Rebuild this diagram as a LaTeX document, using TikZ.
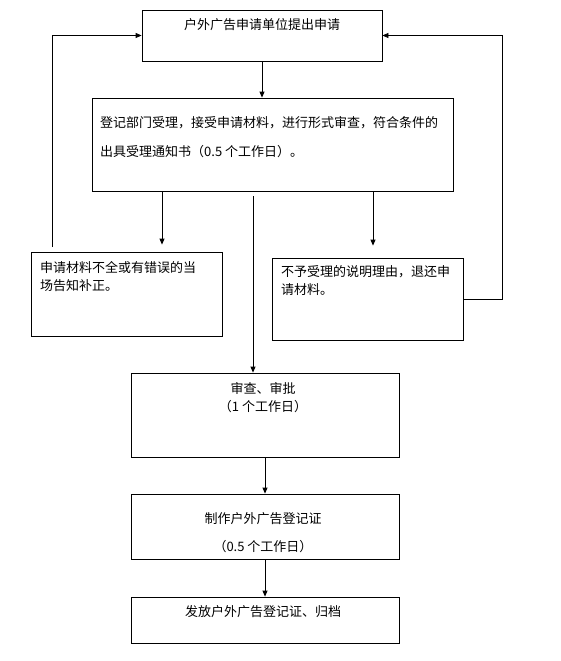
\documentclass[tikz,border=0pt]{standalone}
\usepackage{fontspec}
\setmainfont{Noto Sans CJK SC}
\usetikzlibrary{arrows.meta, positioning}
\tikzset{
  box/.style={draw, line width=0.8pt, inner sep=0pt},
  txt/.style={font=\fontsize{13}{18}\selectfont, inner sep=0pt},
  arr/.style={-{Triangle[length=6pt,width=5pt]}, line width=0.8pt}
}
\begin{document}
\begin{tikzpicture}[x=1pt,y=-1pt]
        \useasboundingbox (0,0) rectangle (560,661);
        \node[box, minimum width=240pt, minimum height=51pt] (apply) at (262,35.5) {};
        \node[box, minimum width=361pt, minimum height=93pt] (accept) at (272.5,144.5) {};
        \node[box, minimum width=191pt, minimum height=84pt] (fix) at (126.5,294) {};
        \node[box, minimum width=191pt, minimum height=82pt] (reject) at (367.5,299) {};
        \node[box, minimum width=268pt, minimum height=84pt] (review) at (265,415) {};
        \node[box, minimum width=268pt, minimum height=65pt] (make) at (265,526.5) {};
        \node[box, minimum width=268pt, minimum height=46pt] (issue) at (265,620) {};
        % texts
        \node[txt] at (262,25) {户外广告申请单位提出申请};
        \node[txt, anchor=west, align=left] at (100,137.5) {登记部门受理，接受申请材料，进行形式审查，符合条件的\\[11pt]出具受理通知书（0.5 个工作日）。};
        \node[txt, anchor=west, align=left] at (40,277) {申请材料不全或有错误的当\\场告知补正。};
        \node[txt, anchor=west, align=left] at (281,281) {不予受理的说明理由，退还申\\请材料。};
        \node[txt, align=center] at (263,398) {审查、审批\\（1 个工作日）};
        \node[txt, align=center] at (263,533) {制作户外广告登记证\\[10pt]（0.5 个工作日）};
        \node[txt] at (263,612) {发放户外广告登记证、归档};
        % arrows
        \coordinate (a1) at (162,191);
        \coordinate (a2) at (253,196);
        \coordinate (a3) at (373,191);
        \coordinate (back) at (52,247);
        \draw[arr] (apply.south) to (apply.south |- accept.north);
        \draw[arr, shorten >=7pt] (a1) to (a1 |- fix.north);
        \draw[arr] (a2) to (a2 |- review.north);
        \draw[arr, shorten >=12pt] (a3) to (a3 |- reject.north);
        \draw[arr] (back) |- (apply.west);
        \draw[arr] (reject.east) -- ++(39,0) |- (apply.east);
        \draw[arr] (review.south) to (make.north);
        \draw[arr] (make.south) to (issue.north);
    \end{tikzpicture}
\end{document}
